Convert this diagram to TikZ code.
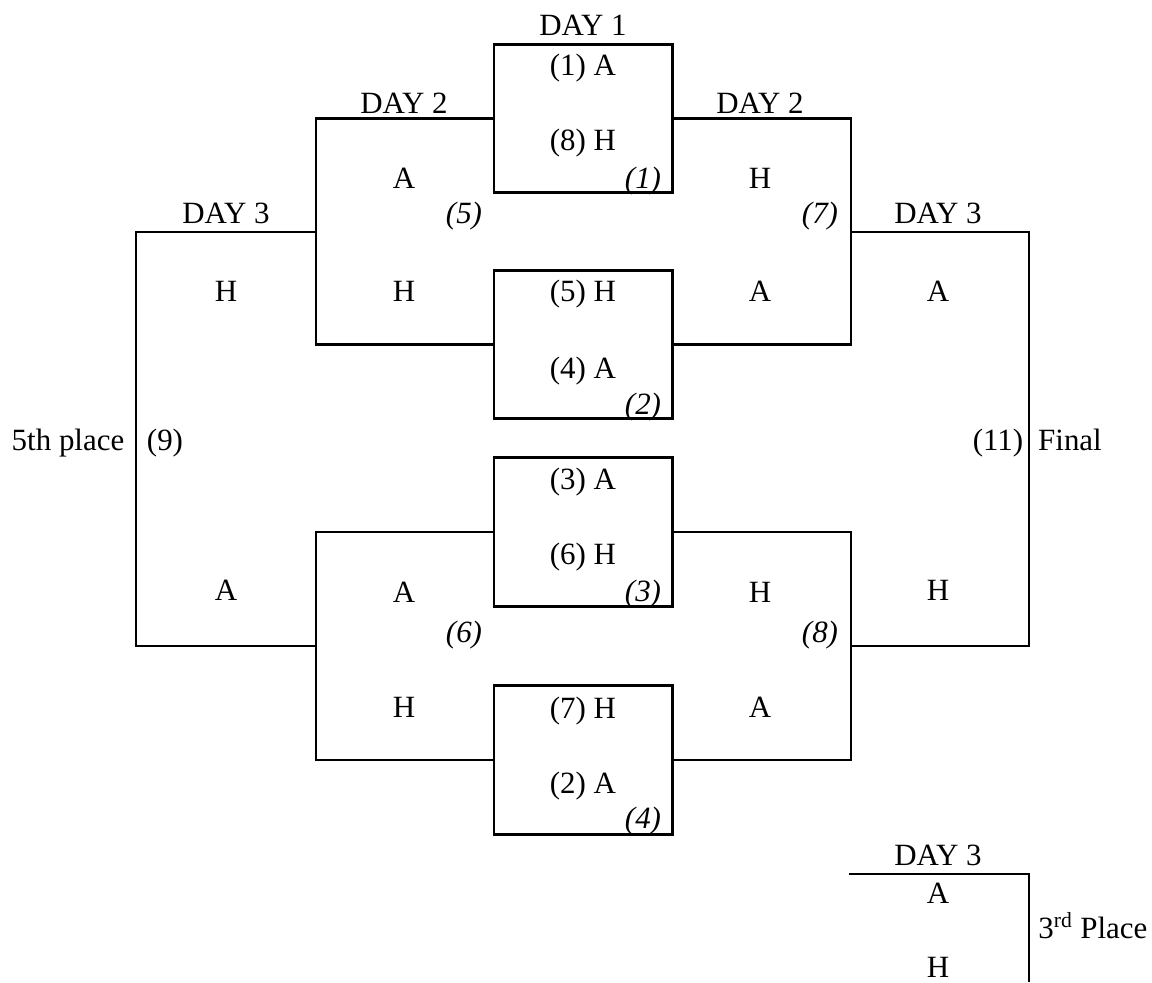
\documentclass[tikz,border=0pt]{standalone}
\usepackage{fontspec}
\setmainfont{Liberation Serif}

\begin{document}
\begin{tikzpicture}[x=0.025cm, y=-0.025cm, line width=2.1pt,
		font=\fontsize{22}{26}\selectfont,
		txt/.style={inner sep=0pt, text height=14.5pt, text depth=0pt},
		gm/.style={txt, font=\fontsize{22}{26}\selectfont\itshape},
		match/.style={draw, minimum width=4.45cm, minimum height=3.72cm, inner sep=0pt}]
		\useasboundingbox (0,0) rectangle (1152,982);
		% day 1
		\node[match] (M1) at (583,118.5) {};
		\node[match] (M2) at (583,344.5) {};
		\node[match] (M3) at (583,532) {};
		\node[match] (M4) at (583,760) {};
		\coordinate (W5) at (316,232);
		\coordinate (W6) at (316,646);
		\coordinate (W7) at (851,232);
		\coordinate (W8) at (851,646);
		\coordinate (W9) at (136,439);
		\coordinate (W11) at (1029,439);
		\coordinate (T3) at (849,874);
		\coordinate (T3end) at (1029,982);
		\draw (M1.west) -| (W5) |- (M2.west);
		\draw (M3.west) -| (W6) |- (M4.west);
		\draw (M1.east) -| (W7) |- (M2.east);
		\draw (M3.east) -| (W8) |- (M4.east);
		\draw (W5) -| (W9) |- (W6);
		\draw (W7) -| (W11) |- (W8);
		\draw (T3) -| (T3end);
		% headings
		\node[txt] (day1) at (583,25) {DAY 1};
		\node[txt] (day2l) at (404,103) {DAY 2};
		\node[txt] (day2r) at (760,103) {DAY 2};
		\node[txt] (day3l) at (226,213) {DAY 3};
		\node[txt] (day3r) at (938,213) {DAY 3};
		\node[txt] (day3b) at (938,855) {DAY 3};
		% game 1 to 4
		\node[txt] (s1) at (583,65) {(1) A};
		\node[txt] (s8) at (583,140) {(8) H};
		\node[gm] (g1) at (643,178) {(1)};
		\node[txt] (s5) at (583,291) {(5) H};
		\node[txt] (s4) at (583,368) {(4) A};
		\node[gm] (g2) at (643,404) {(2)};
		\node[txt] (s3) at (583,479) {(3) A};
		\node[txt] (s6) at (583,554) {(6) H};
		\node[gm] (g3) at (643,591) {(3)};
		\node[txt] (s7) at (583,708) {(7) H};
		\node[txt] (s2) at (583,783) {(2) A};
		\node[gm] (g4) at (643,818) {(4)};
		% game 5 to 8
		\node[txt] (g5a) at (404,178) {A};
		\node[txt] (g5h) at (404,291) {H};
		\node[gm] (g5) at (464,213) {(5)};
		\node[txt] (g7h) at (760,178) {H};
		\node[txt] (g7a) at (760,291) {A};
		\node[gm] (g7) at (820,213) {(7)};
		\node[txt] (g6a) at (404,592) {A};
		\node[txt] (g6h) at (404,707) {H};
		\node[gm] (g6) at (464,632) {(6)};
		\node[txt] (g8h) at (760,592) {H};
		\node[txt] (g8a) at (760,707) {A};
		\node[gm] (g8) at (820,632) {(8)};
		% game 9 and 11
		\node[txt] (g9h) at (226,291) {H};
		\node[txt] (g9a) at (226,590) {A};
		\node[txt] (g9) at (165,440) {(9)};
		\node[txt] (fifth) at (68,440) {5th place};
		\node[txt] (g11a) at (938,291) {A};
		\node[txt] (g11h) at (938,590) {H};
		\node[txt] (g11) at (998,440) {(11)};
		\node[txt] (final) at (1070,440) {Final};
		% third place
		\node[txt] (g10a) at (938,893) {A};
		\node[txt] (g10h) at (938,967) {H};
		\node[txt, anchor=west] (third) at (1037,928) {3\textsuperscript{rd} Place};
	\end{tikzpicture}
\end{document}
